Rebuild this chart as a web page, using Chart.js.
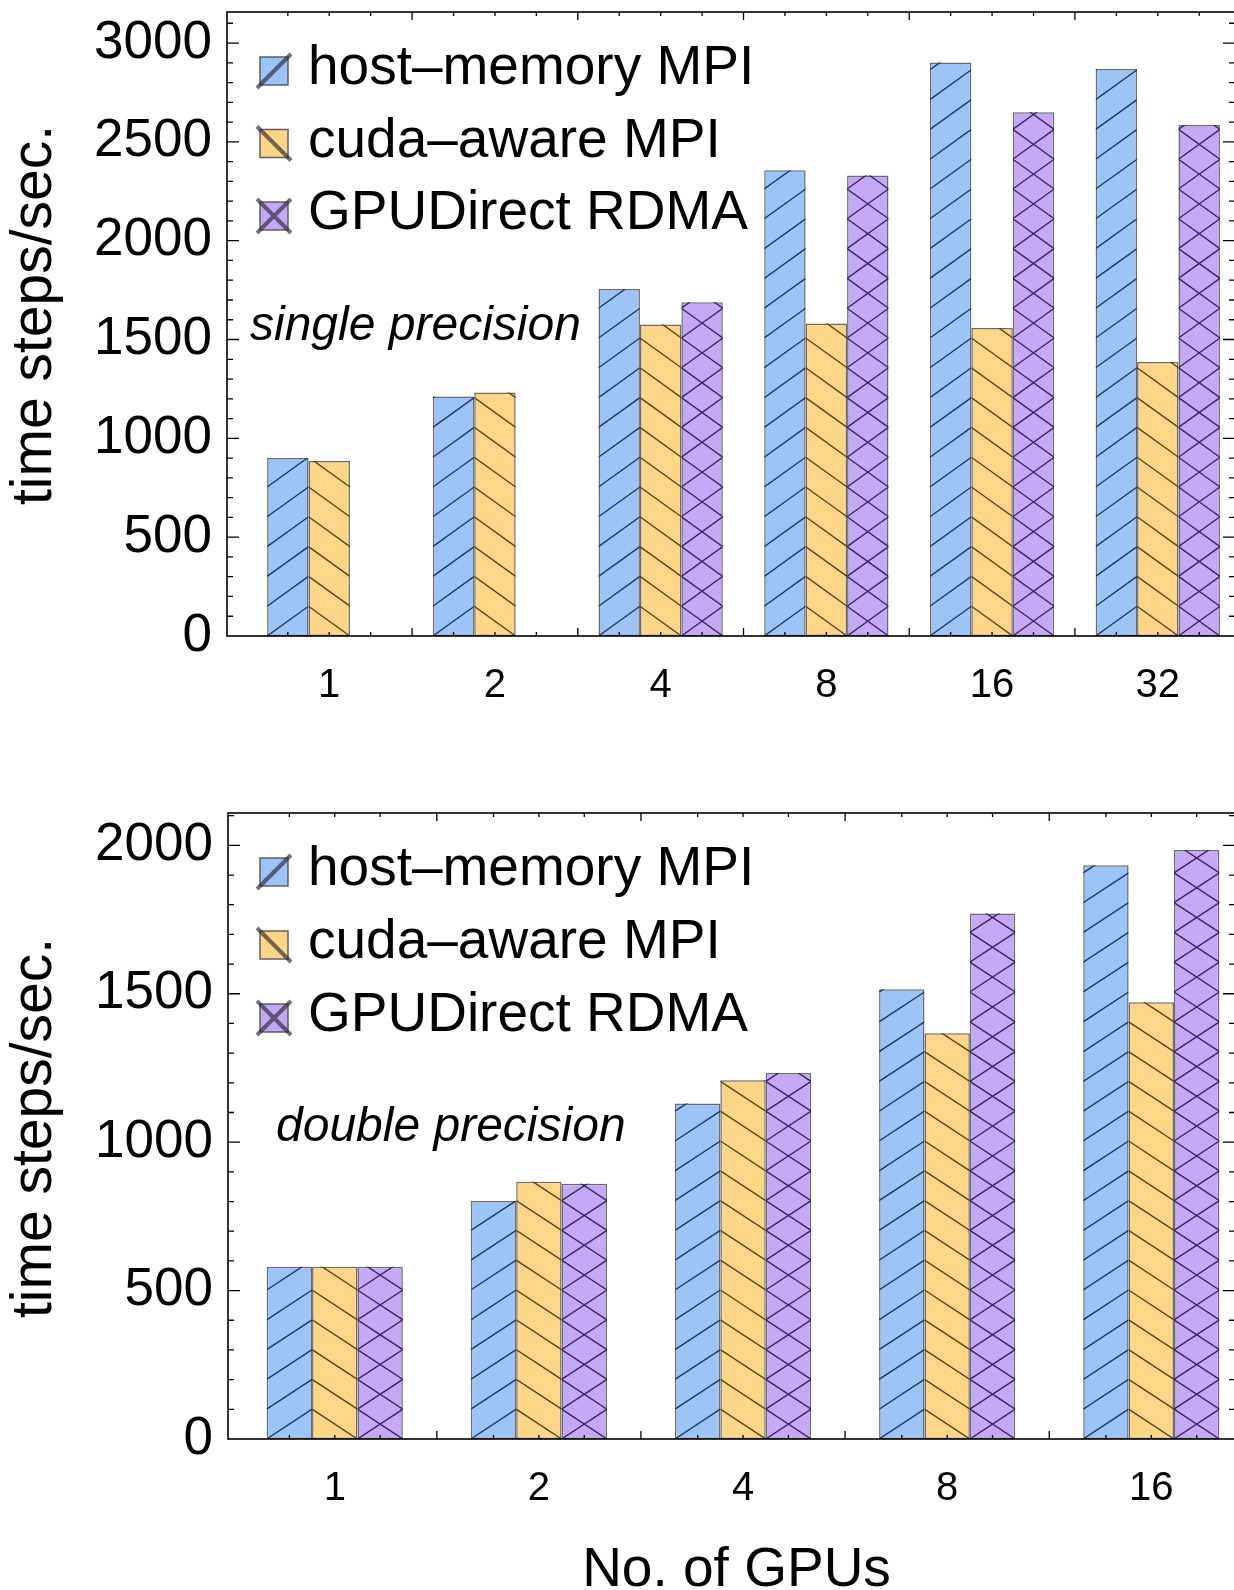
<!DOCTYPE html>
<html>
<head>
<meta charset="utf-8">
<script src="https://cdn.jsdelivr.net/npm/chart.js@4.4.1/dist/chart.umd.min.js"></script>
<style>
    html, body { margin: 0; padding: 0; background: #fff; overflow: hidden; width: 1234px; height: 1590px; }
    .panel { position: absolute; left: 0; }
    #panelSingle { top: 0; }
    #panelDouble { top: 740px; }
</style>
</head>
<body>
<div class="panel" id="panelSingle"><canvas id="singleChart" width="1240" height="730"></canvas></div>
<div class="panel" id="panelDouble"><canvas id="doubleChart" width="1240" height="870"></canvas></div>
<script>
// Data
const seriesNames = ['host\u2013memory MPI', 'cuda\u2013aware MPI', 'GPUDirect RDMA'];

const singleGpus = ['1', '2', '4', '8', '16', '32'];
const singleHost = [900, 1212, 1755, 2356, 2902, 2868];
const singleCuda = [885, 1232, 1576, 1581, 1558, 1386];
const singleRdma = [null, null, 1689, 2330, 2650, 2585];
const singleYTicks = [0, 500, 1000, 1500, 2000, 2500, 3000];

const doubleGpus = ['1', '2', '4', '8', '16'];
const doubleHost = [580, 802, 1130, 1515, 1933];
const doubleCuda = [580, 867, 1209, 1367, 1471];
const doubleRdma = [580, 860, 1233, 1770, 1984];
const doubleYTicks = [0, 500, 1000, 1500, 2000];

// Styling
const FONT = "'Liberation Sans', Arial, Helvetica, sans-serif";
const fillColors = ['#9DC4F6', '#FFD587', '#C4AAF5'];
const hatchColors = ['#1E3A66', '#5E4614', '#3E2270'];
const hatchKinds = ['/', '\\', 'x'];
const HATCH_STEP = 29.8;

function toPoints(values) {
    return values.map((v, i) => ({ x: i, y: v }));
}

function drawHatch(ctx, bar, kind, color) {
    const left = bar.x - bar.width / 2;
    const right = bar.x + bar.width / 2;
    const top = Math.min(bar.y, bar.base);
    const bottom = Math.max(bar.y, bar.base);
    ctx.save();
    ctx.beginPath();
    ctx.rect(left, top, right - left, bottom - top);
    ctx.clip();
    ctx.strokeStyle = color;
    ctx.lineWidth = 1.4;
    ctx.beginPath();
    for (let yy = bottom; yy > top - HATCH_STEP; yy -= HATCH_STEP) {
        if (kind === '/' || kind === 'x') {
            ctx.moveTo(left, yy);
            ctx.lineTo(right, yy - HATCH_STEP);
        }
        if (kind === '\\' || kind === 'x') {
            ctx.moveTo(left, yy - HATCH_STEP);
            ctx.lineTo(right, yy);
        }
    }
    ctx.stroke();
    ctx.restore();
}

function drawLegendIcon(ctx, cx, cy, k) {
    const h = 14;
    ctx.fillStyle = fillColors[k];
    ctx.fillRect(cx - h, cy - h, 2 * h, 2 * h);
    ctx.strokeStyle = 'rgba(80,80,80,0.9)';
    ctx.lineWidth = 1.5;
    ctx.strokeRect(cx - h, cy - h, 2 * h, 2 * h);
    ctx.strokeStyle = 'rgba(40,40,50,0.65)';
    ctx.lineWidth = 4;
    ctx.beginPath();
    const e = h + 3;
    if (hatchKinds[k] === '/' || hatchKinds[k] === 'x') {
        ctx.moveTo(cx - e, cy + e);
        ctx.lineTo(cx + e, cy - e);
    }
    if (hatchKinds[k] === '\\' || hatchKinds[k] === 'x') {
        ctx.moveTo(cx - e, cy - e);
        ctx.lineTo(cx + e, cy + e);
    }
    ctx.stroke();
}

// hatch fill, framed axes with inward ticks, legend and labels
const framePlugin = {
    id: 'mmaFrame',
    afterDatasetsDraw(chart) {
        const ctx = chart.ctx;
        chart.data.datasets.forEach((ds, k) => {
            const meta = chart.getDatasetMeta(k);
            meta.data.forEach((bar, i) => {
                if (ds.data[i].y == null) return;
                drawHatch(ctx, bar, hatchKinds[k], hatchColors[k]);
            });
        });
    },
    afterDraw(chart, args, opts) {
        const ctx = chart.ctx;
        const a = chart.chartArea;
        const xs = chart.scales.x;
        const ys = chart.scales.y;
        ctx.save();

        // frame
        ctx.strokeStyle = '#000';
        ctx.lineWidth = 1.6;
        ctx.strokeRect(a.left, a.top, a.right - a.left, a.bottom - a.top);

        // y ticks (left and right)
        ctx.lineWidth = 1.3;
        ctx.beginPath();
        for (let v = 100; v <= ys.max; v += 100) {
            const py = ys.getPixelForValue(v);
            const len = v % 500 === 0 ? 12 : 6;
            ctx.moveTo(a.left, py);
            ctx.lineTo(a.left + len, py);
            ctx.moveTo(a.right, py);
            ctx.lineTo(a.right - len, py);
        }
        // x ticks (bottom and top): bar centres and gaps between groups
        const base = chart.getDatasetMeta(0).data;
        const nSeries = chart.data.datasets.length;
        base.forEach((bar, i) => {
            for (let k = 0; k < nSeries; k++) {
                const px = bar.x + k * bar.width;
                ctx.moveTo(px, a.bottom);
                ctx.lineTo(px, a.bottom - 4);
                ctx.moveTo(px, a.top);
                ctx.lineTo(px, a.top + 4);
            }
            if (i < base.length - 1) {
                const gx = xs.getPixelForValue(i + 0.5);
                ctx.moveTo(gx, a.bottom);
                ctx.lineTo(gx, a.bottom - 8);
                ctx.moveTo(gx, a.top);
                ctx.lineTo(gx, a.top + 8);
            }
        });
        ctx.stroke();

        // legend
        chart.data.datasets.forEach((ds, k) => {
            const cy = opts.legendTop + k * opts.legendStep;
            drawLegendIcon(ctx, 274, cy, k);
            ctx.fillStyle = '#000';
            ctx.font = '55px ' + FONT;
            ctx.textAlign = 'left';
            ctx.textBaseline = 'alphabetic';
            ctx.fillText(ds.label, 308, cy + 13);
        });

        // precision note
        ctx.fillStyle = '#000';
        ctx.font = 'italic 48px ' + FONT;
        ctx.textAlign = 'left';
        ctx.fillText(opts.note, opts.noteX, opts.noteY);

        // y title
        ctx.save();
        ctx.translate(35, opts.yTitleY);
        ctx.rotate(-Math.PI / 2);
        ctx.font = '57px ' + FONT;
        ctx.textAlign = 'center';
        ctx.textBaseline = 'middle';
        ctx.fillText('time steps/sec.', 0, 0);
        ctx.restore();

        // x title
        if (opts.xTitle) {
            ctx.font = '55px ' + FONT;
            ctx.textAlign = 'center';
            ctx.textBaseline = 'middle';
            ctx.fillText(opts.xTitle, (a.left + a.right) / 2 + 5, opts.xTitleY);
        }
        ctx.restore();
    }
};

function makeChart(canvasId, cfg) {
    const ctx = document.getElementById(canvasId).getContext('2d');
    const datasets = cfg.series.map((values, k) => ({
        label: seriesNames[k],
        data: toPoints(values),
        backgroundColor: fillColors[k],
        borderColor: 'rgba(70,70,70,0.8)',
        borderWidth: 1.5,
        borderSkipped: false,
        categoryPercentage: cfg.categoryPercentage,
        barPercentage: 1.0
    }));
    return new Chart(ctx, {
        type: 'bar',
        data: { datasets: datasets },
        options: {
            responsive: false,
            animation: false,
            devicePixelRatio: 1,
            layout: { padding: { top: cfg.padTop, right: 5, left: 0, bottom: 0 } },
            plugins: {
                legend: { display: false },
                tooltip: { enabled: false },
                mmaFrame: cfg.frame
            },
            scales: {
                x: {
                    type: 'linear',
                    offset: false,
                    min: cfg.xMin,
                    max: cfg.xMax,
                    grid: { display: false, drawTicks: false, offset: false },
                    border: { display: false },
                    ticks: {
                        padding: 26,
                        color: '#000',
                        font: { family: FONT, size: 40 },
                        callback: function(value) {
                            return cfg.labels[value] !== undefined ? cfg.labels[value] : '';
                        }
                    },
                    afterBuildTicks: function(scale) {
                        scale.ticks = cfg.labels.map((lab, i) => ({ value: i }));
                    },
                    afterFit: function(scale) {
                        scale.height = cfg.xAxisHeight;
                        scale.paddingLeft = 0;
                        scale.paddingRight = 0;
                    }
                },
                y: {
                    min: 0,
                    max: cfg.yMax,
                    grid: { display: false, drawTicks: false },
                    border: { display: false },
                    ticks: {
                        padding: 15,
                        color: '#000',
                        font: { family: FONT, size: 53 },
                        callback: function(value) {
                            return String(value);
                        }
                    },
                    afterBuildTicks: function(scale) {
                        scale.ticks = cfg.yTicks.map(v => ({ value: v }));
                    },
                    afterFit: function(scale) {
                        scale.width = cfg.yAxisWidth;
                        scale.paddingTop = 0;
                        scale.paddingBottom = 0;
                    }
                }
            }
        },
        plugins: [framePlugin]
    });
}

makeChart('singleChart', {
    series: [singleHost, singleCuda, singleRdma],
    labels: singleGpus,
    yTicks: singleYTicks,
    categoryPercentage: 0.75,
    xMin: -0.617,
    xMax: 5.466,
    yMax: 3157,
    padTop: 12,
    yAxisWidth: 227,
    xAxisHeight: 94,
    frame: {
        legendTop: 71, legendStep: 72.5,
        note: 'single precision', noteX: 250, noteY: 340,
        yTitleY: 315
    }
});

makeChart('doubleChart', {
    series: [doubleHost, doubleCuda, doubleRdma],
    labels: doubleGpus,
    yTicks: doubleYTicks,
    categoryPercentage: 0.667,
    xMin: -0.523,
    xMax: 4.41,
    yMax: 2109,
    padTop: 73,
    yAxisWidth: 228,
    xAxisHeight: 171,
    frame: {
        legendTop: 132, legendStep: 73,
        note: 'double precision', noteX: 276, noteY: 401,
        yTitleY: 388,
        xTitle: 'No. of GPUs', xTitleY: 831
    }
});
</script>
</body>
</html>
